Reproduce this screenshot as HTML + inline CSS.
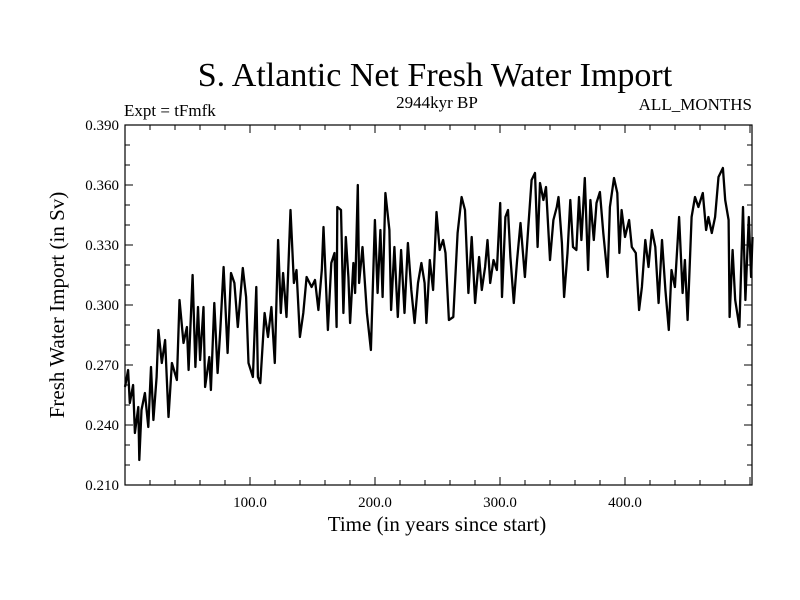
<!DOCTYPE html>
<html><head><meta charset="utf-8"><style>
html,body{margin:0;padding:0;background:#fff;}
svg{display:block;font-family:"Liberation Serif","DejaVu Serif",serif;}
</style></head><body>
<svg id="chart" width="800" height="600" viewBox="0 0 800 600" xmlns="http://www.w3.org/2000/svg">
<rect x="0" y="0" width="800" height="600" fill="#fff"/>
<text x="435" y="86" font-size="34" text-anchor="middle">S. Atlantic Net Fresh Water Import</text>
<text x="124" y="116" font-size="17">Expt = tFmfk</text>
<text x="437" y="108" font-size="17" text-anchor="middle">2944kyr BP</text>
<text x="752" y="110" font-size="17" text-anchor="end">ALL_MONTHS</text>
<text x="437" y="531" font-size="21" text-anchor="middle">Time (in years since start)</text>
<text x="0" y="0" font-size="21" text-anchor="middle" transform="translate(64,305) rotate(-90)">Fresh Water Import (in Sv)</text>
<g id="ticks"></g>
<g id="series"></g>
<rect x="125" y="125" width="627" height="360" fill="none" stroke="#000" stroke-width="1.2"/>
</svg>
<script>
const years1 = [0,2.5,3.8,6.5,7.9,10.6,11.4,13.2,15.9,18.6,20.8,22.7,25.3,26.7,29.4,32.1,34.8,37.5,41.5,43.6,46.8,49.5,50.9,54.1,56.3,58.4,60.1,62.8,64.1,67.4,68.7,71.4,74.1,76.2,78.9,82.1,84.8,87.5,90.2,94.2,96.9,98.8,102.3,105,106.3,108.2,111.7,114.4,117.1,119.8,122.5,124.6,126.5,129.2,132.4,135.1,137.2,139.9,142.6,145.3,149.3,152,154.7,157.4,158.8,162.3,165,167.6];
const values1 = [0.259,0.2675,0.251,0.260,0.236,0.249,0.2225,0.2475,0.256,0.239,0.269,0.2425,0.264,0.2875,0.271,0.2825,0.244,0.271,0.2625,0.3025,0.281,0.289,0.2675,0.315,0.269,0.299,0.2725,0.299,0.259,0.274,0.2575,0.301,0.266,0.2875,0.319,0.276,0.316,0.311,0.289,0.3185,0.304,0.271,0.264,0.309,0.264,0.261,0.296,0.284,0.299,0.271,0.3325,0.296,0.316,0.294,0.3475,0.311,0.3175,0.284,0.296,0.314,0.309,0.3125,0.2975,0.3175,0.339,0.2875,0.321,0.326];
const years2 = [169.3,169.8,172.8,174.7,176.6,178.7,180.1,182.7,184.1,186.2,187.3,190,193.5,196.7,199.9,202.1,204.3,206.1,208.3,211.5,212.9,215.5,218.2,220.9,223.6,226.3,229,231.7,234.4,237.1,239.7,241.1,243.8,246.5,249.2,251.8,254.5,256.4,259.1,262.6,266.1,269.3,272,274.7,277.4,280.1,283.3,285.4,288.1,290,292.2,294.8,297.5,300.2,301.6,304.3,306.4,308.3,311,313.7,316.4,319.9,322.6,325.3,328,330.1,332];
const values2 = [0.289,0.349,0.3475,0.296,0.334,0.314,0.291,0.321,0.306,0.36,0.311,0.329,0.296,0.2775,0.3425,0.306,0.3375,0.304,0.356,0.3375,0.2975,0.329,0.294,0.3275,0.296,0.331,0.3075,0.291,0.311,0.321,0.311,0.291,0.3225,0.3075,0.3465,0.3275,0.3325,0.326,0.2925,0.294,0.336,0.354,0.3475,0.306,0.334,0.301,0.324,0.3075,0.319,0.3325,0.311,0.3225,0.3175,0.351,0.304,0.344,0.3475,0.324,0.301,0.3225,0.341,0.314,0.339,0.3625,0.366,0.329,0.361];
const years3 = [334.7,336.8,340,342.7,345.4,346.8,349.5,351.3,354,356.2,358.4,361.1,363.2,365.1,367.8,370.5,372.3,375,377.2,379.9,382.6,386.1,387.9,391.2,393.8,395.5,397.3,400,403.3,405.4,408.6,411.3,413.5,416.2,418.8,421.5,424.2,426.9,429.6,432.3,435,437.2,439.9,443.3,446.1,447.9,450.1,453.3,456,458.7,462.2,464.9,466.7,469.4,472.1,474.8,478.3,480.2,482.9,483.7,486.1,488.2,491.5,494.4,496.3,499,500.9,502];
const values3 = [0.3525,0.359,0.3225,0.3425,0.349,0.354,0.331,0.304,0.326,0.3525,0.329,0.3275,0.354,0.3325,0.3635,0.3175,0.3525,0.3325,0.351,0.3565,0.336,0.314,0.349,0.3635,0.356,0.326,0.3475,0.334,0.3425,0.329,0.326,0.2975,0.309,0.3325,0.319,0.3375,0.329,0.301,0.3325,0.3075,0.2875,0.3175,0.309,0.344,0.306,0.3225,0.2925,0.344,0.354,0.349,0.356,0.3375,0.344,0.336,0.344,0.364,0.3685,0.3525,0.3425,0.294,0.3275,0.3025,0.289,0.349,0.3025,0.344,0.314,0.334];
const xTickValues = [100,200,300,400];
const xTickLabels = ["100.0","200.0","300.0","400.0"];
const yTickValues = [0.21,0.24,0.27,0.30,0.33,0.36,0.39];
const yTickLabels = ["0.210","0.240","0.270","0.300","0.330","0.360","0.390"];

const X0=125, X1=752, Y0=485, Y1=125, XMIN=0, XMAX=501.6, YMIN=0.21, YMAX=0.39;
function xs(t){return X0+(t-XMIN)/(XMAX-XMIN)*(X1-X0);}
function ys(v){return Y0-(v-YMIN)/(YMAX-YMIN)*(Y0-Y1);}
const NS="http://www.w3.org/2000/svg";
const tg=document.getElementById('ticks');
function line(x1,y1,x2,y2,name){
  const l=document.createElementNS(NS,'line');
  l.setAttribute('x1',x1);l.setAttribute('y1',y1);l.setAttribute('x2',x2);l.setAttribute('y2',y2);
  l.setAttribute('stroke','#000');l.setAttribute('stroke-width','1');
  
  
  tg.appendChild(l);
}
for(let t=20;t<XMAX;t+=20){
  const major=(t%100===0); const len=major?8:5; const x=xs(t);
  line(x,Y0,x,Y0-len,'x-tick');
  line(x,Y1,x,Y1+len,'x-tick-top');
}
for(let i=0;i<xTickValues.length;i++){
  const tx=document.createElementNS(NS,'text');
  tx.setAttribute('x',xs(xTickValues[i]));tx.setAttribute('y',Y0+22);
  tx.setAttribute('font-size','15');tx.setAttribute('text-anchor','middle');
  tx.textContent=xTickLabels[i];
  
  
  tg.appendChild(tx);
}
for(let k=1;k<18;k++){
  const v=YMIN+k*0.01; const major=(k%3===0); const len=major?8:5; const y=ys(v);
  line(X0,y,X0+len,y,'y-tick');
  line(X1,y,X1-len,y,'y-tick-right');
}
for(let i=0;i<yTickValues.length;i++){
  const tx=document.createElementNS(NS,'text');
  tx.setAttribute('x',X0-6);tx.setAttribute('y',ys(yTickValues[i])+5);
  tx.setAttribute('font-size','15');tx.setAttribute('text-anchor','end');
  tx.textContent=yTickLabels[i];
  
  
  tg.appendChild(tx);
}
const years=years1.concat(years2,years3), values=values1.concat(values2,values3);
let d='';
for(let i=0;i<years.length;i++){d+=(i?'L':'M')+xs(years[i]).toFixed(1)+' '+ys(values[i]).toFixed(1);}
const p=document.createElementNS(NS,'path');
p.setAttribute('d',d);p.setAttribute('fill','none');p.setAttribute('stroke','#000');
p.setAttribute('stroke-width','2.3');p.setAttribute('stroke-linejoin','round');


document.getElementById('series').appendChild(p);
</script>
</body></html>
